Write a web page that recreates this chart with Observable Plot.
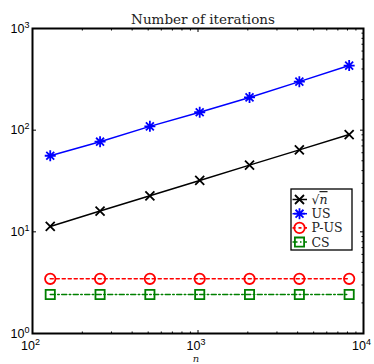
<!DOCTYPE html>
<html><head><meta charset="utf-8">
<script src="https://cdn.jsdelivr.net/npm/d3@7"></script>
<script src="https://cdn.jsdelivr.net/npm/@observablehq/plot@0.6"></script>
<style>body{margin:0;background:#fff}svg{display:block}</style>
</head><body><div id="chart"></div>
<script>
// ---- data ----
const n      = [128, 256, 512, 1024, 2048, 4096, 8192];
const sqrtN  = [11.3, 16, 22.6, 32, 45.3, 64, 90.5];
const us     = [56, 77, 109, 150, 210, 300, 432];
const pus    = [3.45, 3.45, 3.45, 3.45, 3.45, 3.45, 3.45];
const cs     = [2.42, 2.42, 2.42, 2.42, 2.42, 2.42, 2.42];
const seriesNames = ["√n", "US", "P-US", "CS"];
const xTicks = [100, 1000, 10000];
const yTicks = [1, 10, 100, 1000];
const xMinor = [200,300,400,500,600,700,800,900,2000,3000,4000,5000,6000,7000,8000,9000];
const yMinor = [2,3,4,5,6,7,8,9,20,30,40,50,60,70,80,90,200,300,400,500,600,700,800,900];
const titleText = "Number of iterations";
const xLabel = "n";

const rows = n.map((x, i) => ({n: x, sqrtN: sqrtN[i], us: us[i], pus: pus[i], cs: cs[i]}));

// ---- symbols ----
const timesSym = h => ({draw(c){c.moveTo(-h,-h);c.lineTo(h,h);c.moveTo(-h,h);c.lineTo(h,-h);}});
const asteriskSym = h => { const d = h*0.72; return {draw(c){c.moveTo(-h,0);c.lineTo(h,0);c.moveTo(0,-h);c.lineTo(0,h);c.moveTo(-d,-d);c.lineTo(d,d);c.moveTo(-d,d);c.lineTo(d,-d);}}; };
const circleSym = r => ({draw(c){c.moveTo(r,0);c.arc(0,0,r,0,2*Math.PI);}});
const squareSym = h => ({draw(c){c.rect(-h,-h,2*h,2*h);}});
const tickSym = (dx, dy) => ({draw(c){c.moveTo(0,0);c.lineTo(dx,dy);}});

const styles = [
  {key: "sqrtN", color: "#000000", dash: null, sym: timesSym(4.5), lw: 1.5},
  {key: "us", color: "#0000ff", dash: null, sym: asteriskSym(5.5), lw: 1.5},
  {key: "pus", color: "#ff0000", dash: "3,3", sym: circleSym(5.2), lw: 1.6},
  {key: "cs", color: "#008000", dash: "5,2.5,1.5,2.5", sym: squareSym(4.6), lw: 1.5}
];

const marks = [];
for (const s of [...styles].reverse()) {
  marks.push(Plot.line(rows, {x: "n", y: s.key, stroke: s.color, strokeWidth: s.lw, strokeDasharray: s.dash}));
}
for (const s of [...styles].reverse()) {
  marks.push(Plot.dot(rows, {x: "n", y: s.key, symbol: s.sym, stroke: s.color, fill: "none", strokeWidth: 1.8}));
}
// inward ticks
marks.push(
  Plot.dot(xTicks, {x: d => d, y: () => 1, symbol: tickSym(0,-3.5), stroke: "black", strokeWidth: 1}),
  Plot.dot(xTicks, {x: d => d, y: () => 1000, symbol: tickSym(0,3.5), stroke: "black", strokeWidth: 1}),
  Plot.dot(xMinor, {x: d => d, y: () => 1, symbol: tickSym(0,-2), stroke: "black", strokeWidth: 1}),
  Plot.dot(xMinor, {x: d => d, y: () => 1000, symbol: tickSym(0,2), stroke: "black", strokeWidth: 1}),
  Plot.dot(yTicks, {y: d => d, x: () => 100, symbol: tickSym(3.5,0), stroke: "black", strokeWidth: 1}),
  Plot.dot(yTicks, {y: d => d, x: () => 10000, symbol: tickSym(-3.5,0), stroke: "black", strokeWidth: 1}),
  Plot.dot(yMinor, {y: d => d, x: () => 10000, symbol: tickSym(-2,0), stroke: "black", strokeWidth: 1}),
  Plot.frame({stroke: "black", strokeWidth: 2}),
  Plot.axisX(xTicks, {tickSize: 0, tickPadding: 8, dx: -2, label: null, tickFormat: d => "10^" + Math.round(Math.log10(d))}),
  Plot.axisY(yTicks, {tickSize: 0, tickPadding: 3, label: null, tickFormat: d => "10^" + Math.round(Math.log10(d))}),
  Plot.text([titleText], {frameAnchor: "top", dy: -14, dx: 5, text: d => d, fontFamily: "DejaVu Serif", fontSize: 13.5, fill: "#222"}),
  Plot.text([xLabel], {frameAnchor: "bottom", dy: 28.5, dx: -2, text: d => d, fontFamily: "DejaVu Serif", fontStyle: "italic", fontSize: 10, fill: "#222"})
);

const svg = Plot.plot({
  width: 374, height: 364,
  marginLeft: 32, marginRight: 11, marginTop: 28, marginBottom: 31,
  style: {fontFamily: "'Liberation Sans', Arial, Helvetica, sans-serif", fontSize: "12.5px", color: "black", background: "white", overflow: "visible"},
  x: {type: "log", domain: [100, 10000]},
  y: {type: "log", domain: [1, 1000]},
  marks
});

// superscript exponents on tick labels
d3.select(svg).selectAll('g[aria-label="x-axis tick label"] text, g[aria-label="y-axis tick label"] text').each(function() {
  const parts = this.textContent.split("^");
  const s = d3.select(this);
  s.text(parts[0]);
  s.append("tspan").attr("dy", "-0.55em").attr("font-size", "0.72em").text(parts[1]);
});

// legend
const leg = d3.select(svg).append("g").attr("aria-label", "legend").attr("text-anchor", "start");
leg.append("rect").attr("x", 291).attr("y", 189).attr("width", 61).attr("height", 61)
  .attr("fill", "white").attr("stroke", "black").attr("stroke-width", 1.3);
styles.forEach((s, i) => {
  const y = 199.5 + i * 14.2;
  leg.append("line").attr("x1", 292.5).attr("x2", 307).attr("y1", y).attr("y2", y)
    .attr("stroke", s.color).attr("stroke-width", s.lw).attr("stroke-dasharray", s.dash);
  const p = d3.path(); s.sym.draw(p);
  leg.append("path").attr("d", p.toString()).attr("transform", `translate(299.5,${y})`)
    .attr("fill", "none").attr("stroke", s.color).attr("stroke-width", 1.8);
  const t = leg.append("text").attr("x", 311.5).attr("y", y).attr("dy", "0.36em")
    .attr("text-anchor", "start")
    .attr("font-family", "DejaVu Serif").attr("font-size", 12.5).attr("fill", "#222");
  const name = seriesNames[i];
  if (name.startsWith("√")) {
    t.append("tspan").text("√");
    t.append("tspan").attr("font-style", "italic").attr("text-decoration", "overline").text(name.slice(1));
  } else t.text(name);
});

document.getElementById("chart").appendChild(svg);
</script>
</body></html>
